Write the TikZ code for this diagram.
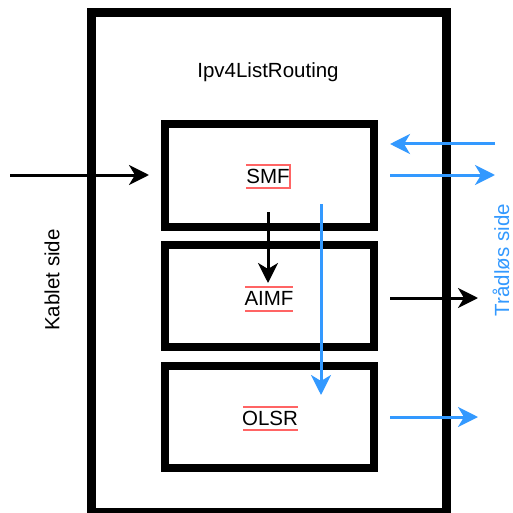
\documentclass[tikz,border=0pt]{standalone}
\usepackage{fontspec}
\setmainfont{Liberation Sans}
\usetikzlibrary{arrows.meta}
\definecolor{myblue}{RGB}{51,153,255}
\definecolor{myred}{RGB}{255,100,100}
\begin{document}
\begin{tikzpicture}[x=1pt,y=-1pt,
  outerbox/.style={draw=black,line width=9pt},
  modbox/.style={draw=black,line width=8pt},
  lbl/.style={font=\fontsize{20.5}{24}\selectfont,inner sep=0pt},
  blk/.style={line width=3pt,-{Stealth[length=20pt,width=20pt,inset=6pt]}},
  blu/.style={line width=3pt,draw=myblue,-{Stealth[length=20pt,width=20pt,inset=6pt]}},
  spellmark/.style={draw=myred,line width=2pt}
]
\useasboundingbox (0,0) rectangle (512,513);
\begin{scope}
\clip (0,0) rectangle (512,513);
\draw[outerbox] (91.5,12.5) rectangle (446,512);
\end{scope}
\draw[modbox] (165,124.5) rectangle (374,227);
\draw[modbox] (165,245) rectangle (374,347);
\draw[modbox] (165,366) rectangle (374,468);

\node[lbl] (title) at (268,72) {Ipv4ListRouting};
\node[lbl] (smf) at (268,176) {SMF};
\node[lbl] (aimf) at (269,298) {AIMF};
\node[lbl] (olsr) at (270,418) {OLSR};
\node[lbl,rotate=90] (kablet) at (52,280) {Kablet side};
\node[lbl,rotate=90,text=myblue] (tradlos) at (501,260) {Trådløs side};

% red spell marks
\draw[spellmark] (246,165) -- (290,165) -- (290,188.3) -- (246,188.3);
\draw[spellmark] (245,287) -- (293,287);
\draw[spellmark] (245,311) -- (293,311);
\draw[spellmark] (243,407) -- (298,407);
\draw[spellmark] (243,430) -- (298,430);

% arrows
\coordinate (inA) at (10,175);
\coordinate (inB) at (149,175);
\coordinate (dnA) at (268,212);
\coordinate (dnB) at (268,283);
\coordinate (bvA) at (321,204);
\coordinate (bvB) at (321,395);
\coordinate (w1A) at (495,144);
\coordinate (w1B) at (390,144);
\coordinate (w2A) at (390,175);
\coordinate (w2B) at (495,175);
\coordinate (w3A) at (390,298);
\coordinate (w3B) at (478,298);
\coordinate (w4A) at (390,417);
\coordinate (w4B) at (478,417);

\draw[blk] (inA) -- (inB);
\draw[blk] (dnA) -- (dnB);
\draw[blu] (bvA) -- (bvB);
\draw[blu] (w1A) -- (w1B);
\draw[blu] (w2A) -- (w2B);
\draw[blk] (w3A) -- (w3B);
\draw[blu] (w4A) -- (w4B);
\end{tikzpicture}
\end{document}
